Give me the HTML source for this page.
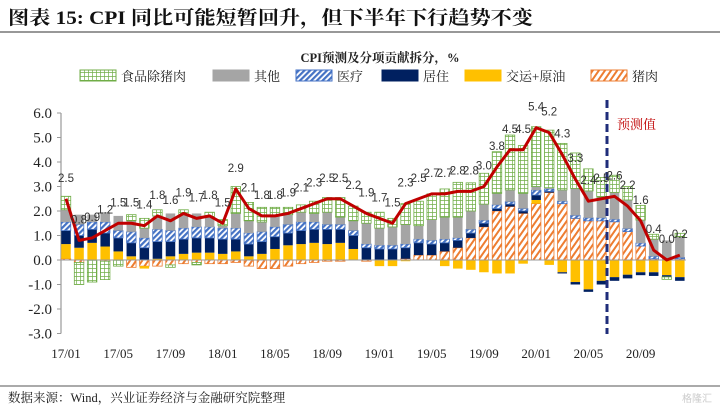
<!DOCTYPE html>
<html><head><meta charset="utf-8">
<style>
body{margin:0;background:#fff;}
svg text{font-family:"Liberation Serif","Noto Serif CJK SC",serif;}
</style></head>
<body>
<svg id="chart" width="720" height="408" viewBox="0 0 720 408" xmlns="http://www.w3.org/2000/svg">
<defs>
<pattern id="pGreen" width="4" height="4" patternUnits="userSpaceOnUse"><rect width="4" height="4" fill="#fff"/><path d="M0 0H4M0 0V4" stroke="#70AD47" stroke-width="1.4"/></pattern>
<pattern id="pBlue" width="4" height="4" patternUnits="userSpaceOnUse" patternTransform="rotate(45)"><rect width="4" height="4" fill="#fff"/><rect width="2.2" height="4" fill="#4472C4"/></pattern>
<pattern id="pOrange" width="5" height="5" patternUnits="userSpaceOnUse" patternTransform="rotate(35)"><rect width="5" height="5" fill="#fff"/><rect width="2" height="5" fill="#ED7D31"/></pattern>
</defs>
<text x="8" y="24" font-size="19" font-weight="bold" fill="#111" textLength="525" lengthAdjust="spacingAndGlyphs" style="font-family:'Liberation Serif','Noto Serif CJK SC',serif">图表 15:  CPI 同比可能短暂回升，但下半年下行趋势不变</text>
<line x1="0" y1="32" x2="720" y2="32" stroke="#777" stroke-width="1.5"/>
<text x="380" y="62" font-size="12.5" font-weight="bold" text-anchor="middle" fill="#222">CPI预测及分项贡献拆分，%</text>
<g id="legend"></g>
<g id="plot"></g>
<line x1="0" y1="386" x2="720" y2="386" stroke="#555" stroke-width="1"/>
<text x="8" y="402" font-size="12.5" fill="#222">数据来源：Wind，兴业证券经济与金融研究院整理</text>
<text x="712" y="402" font-size="10" text-anchor="end" fill="#ccc" style="font-family:'Liberation Sans','Noto Sans CJK SC',sans-serif">格隆汇</text>
</svg>
<script>
const months=["17/01","17/02","17/03","17/04","17/05","17/06","17/07","17/08","17/09","17/10","17/11","17/12","18/01","18/02","18/03","18/04","18/05","18/06","18/07","18/08","18/09","18/10","18/11","18/12","19/01","19/02","19/03","19/04","19/05","19/06","19/07","19/08","19/09","19/10","19/11","19/12","20/01","20/02","20/03","20/04","20/05","20/06","20/07","20/08","20/09","20/10","20/11","20/12"];
const xTickLabels=["17/01","17/05","17/09","18/01","18/05","18/09","19/01","19/05","19/09","20/01","20/05","20/09"];
const yTicks=[6,5,4,3,2,1,0,-1,-2,-3];
const cpi=[2.5,0.8,0.9,1.2,1.5,1.5,1.4,1.8,1.6,1.9,1.7,1.8,1.5,2.9,2.1,1.8,1.8,1.9,2.1,2.3,2.5,2.5,2.2,1.9,1.7,1.5,2.3,2.5,2.7,2.7,2.8,2.8,3.0,3.8,4.5,4.5,5.4,5.2,4.3,3.3,2.4,2.5,2.6,2.2,1.6,0.4,0.0,0.2];
const pork=[0.05,-0.1,0,-0.05,0,-0.3,-0.25,-0.25,-0.2,-0.15,-0.1,-0.15,-0.15,-0.1,-0.25,-0.35,-0.35,-0.25,-0.15,-0.1,-0.05,-0.05,0,-0.05,0,0,0.05,0.2,0.2,0.35,0.5,0.9,1.35,2.0,2.18,1.9,2.3,2.75,2.3,1.7,1.6,1.6,1.56,1.16,0.57,0.05,0,0.05];
const transOil=[0.6,0.5,0.7,0.55,0.35,0.15,-0.1,0.05,0.15,0.25,0.3,0.3,0.25,0.35,0.15,0.25,0.45,0.6,0.65,0.7,0.65,0.7,0.45,0,-0.25,-0.25,-0.05,0,0,-0.25,-0.35,-0.4,-0.5,-0.55,-0.55,-0.15,0.15,-0.2,-0.5,-0.9,-1.2,-0.85,-0.7,-0.6,-0.5,-0.5,-0.62,-0.7];
const housing=[0.55,0.5,0.55,0.55,0.55,0.55,0.5,0.7,0.6,0.6,0.6,0.6,0.6,0.5,0.5,0.5,0.5,0.5,0.55,0.55,0.6,0.55,0.55,0.5,0.45,0.45,0.45,0.5,0.45,0.35,0.3,0.2,0.15,0.1,0.1,0.1,0.2,0.05,-0.05,-0.1,-0.1,-0.15,-0.15,-0.15,-0.12,-0.15,-0.07,-0.15];
const medical=[0.35,0.45,0.3,0.45,0.3,0.45,0.4,0.5,0.45,0.45,0.45,0.45,0.45,0.45,0.45,0.4,0.4,0.35,0.35,0.3,0.2,0.2,0.2,0.15,0.15,0.15,0.15,0.15,0.15,0.15,0.1,0.15,0.12,0.15,0.1,0.1,0.2,0.1,0.1,0.12,0.12,0.12,0.1,0.12,0.12,0.1,0,0.05];
const other=[0.5,0.4,0.3,0.4,0.6,0.45,0.4,0.55,0.7,0.55,0.55,0.4,0.1,0.6,0.5,0.4,0.45,0.4,0.4,0.35,0.5,0.3,0.4,0.85,0.7,0.75,0.8,0.55,0.85,0.9,0.85,0.75,0.66,0.47,0.48,0.62,0.15,0.05,0.46,1.1,1.1,0.85,1.1,1.17,0.94,0.7,0.8,0.85];
const food=[0.55,-0.9,-0.9,-0.75,-0.25,0.25,0.4,0.25,-0.1,0.2,-0.1,0.2,0.25,1.1,0.75,0.6,0.35,0.3,0.3,0.5,0.6,0.8,0.6,0.45,0.65,0.35,0.85,1.0,1.05,1.15,1.42,1.15,1.26,1.7,2.24,1.95,2.44,2.35,1.9,1.45,0.9,0.8,0.7,0.55,0.6,0.2,-0.1,0.14];

const NS="http://www.w3.org/2000/svg";
const plot=document.getElementById('plot');
const X0=66, STEP=13.06, Y0=260, UNIT=24.5, BW=9.5;
const xS=i=>X0+i*STEP;
const yS=v=>Y0-v*UNIT;
function mk(tag,attrs,parent){const e=document.createElementNS(NS,tag);for(const k in attrs)e.setAttribute(k,attrs[k]);(parent||plot).appendChild(e);return e;}

const axis=mk('line',{x1:61,y1:yS(6),x2:61,y2:yS(-3),stroke:'#999','stroke-width':1.2});


yTicks.forEach(t=>{
  const tk=mk('line',{x1:57,y1:yS(t),x2:61,y2:yS(t),stroke:'#999'});
  
  
  const tl=mk('text',{x:52,y:yS(t)+5,'font-size':15,'text-anchor':'end',fill:'#222'});
  tl.textContent=t.toFixed(1);
  
  
});
xTickLabels.forEach((l,k)=>{
  const t=mk('text',{x:xS(k*4),y:358,'font-size':13,'text-anchor':'middle',fill:'#222'});
  t.textContent=l;
  
  
});

const series=[[pork,'url(#pOrange)','#ED7D31','pork'],[transOil,'#FFC000','#FFC000','transport-oil'],[housing,'#002060','#002060','housing'],[medical,'url(#pBlue)','#4472C4','medical'],[other,'#A5A5A5','#A5A5A5','other'],[food,'url(#pGreen)','#70AD47','food-ex-pork']];
months.forEach((m,i)=>{
  let pos=0,neg=0;
  series.forEach(s=>{
    const v=s[0][i]; if(!v)return;
    let a,b;
    if(v>0){a=pos;b=pos+v;pos=b;}else{a=neg;b=neg+v;neg=b;}
    const y1=yS(Math.max(a,b)), y2=yS(Math.min(a,b));
    const r=mk('rect',{x:xS(i)-BW/2,y:y1,width:BW,height:Math.max(0.5,y2-y1),fill:s[1],stroke:s[1].startsWith('url')?s[2]:'none','stroke-width':0.8});
    
    
  });
});
const zl=mk('line',{x1:61,y1:Y0,x2:xS(47)+6,y2:Y0,stroke:'#999','stroke-width':1});


const fl=mk('line',{x1:607,y1:100,x2:607,y2:334,stroke:'#1F2D7A','stroke-width':3,'stroke-dasharray':'8,4'});


const ft=mk('text',{x:617,y:129,'font-size':13,fill:'#C00000'});
ft.textContent='预测值';


const ln=mk('polyline',{points:cpi.map((v,i)=>xS(i)+','+yS(v)).join(' '),fill:'none',stroke:'#C00000','stroke-width':3,'stroke-linejoin':'round'});


cpi.forEach((v,i)=>{
  const t=mk('text',{x:xS(i),y:yS(v)-17,'font-size':11.5,'text-anchor':'middle',fill:'#333',style:"font-family:'Liberation Sans',sans-serif"});
  t.textContent=v.toFixed(1);
  
  
});

const leg=document.getElementById('legend');
const items=[['url(#pGreen)','#70AD47','食品除猪肉',80],['#A5A5A5','#A5A5A5','其他',213],['url(#pBlue)','#4472C4','医疗',296],['#002060','#002060','居住',382],['#FFC000','#FFC000','交运+原油',465],['url(#pOrange)','#ED7D31','猪肉',591]];
items.forEach(it=>{
  const r=mk('rect',{x:it[3],y:70,width:36,height:11,fill:it[0],stroke:it[1],'stroke-width':1},leg);
  
  
  const t=mk('text',{x:it[3]+41,y:81,'font-size':13,fill:'#222'},leg);
  t.textContent=it[2];
  
  
});
</script>
</body></html>
